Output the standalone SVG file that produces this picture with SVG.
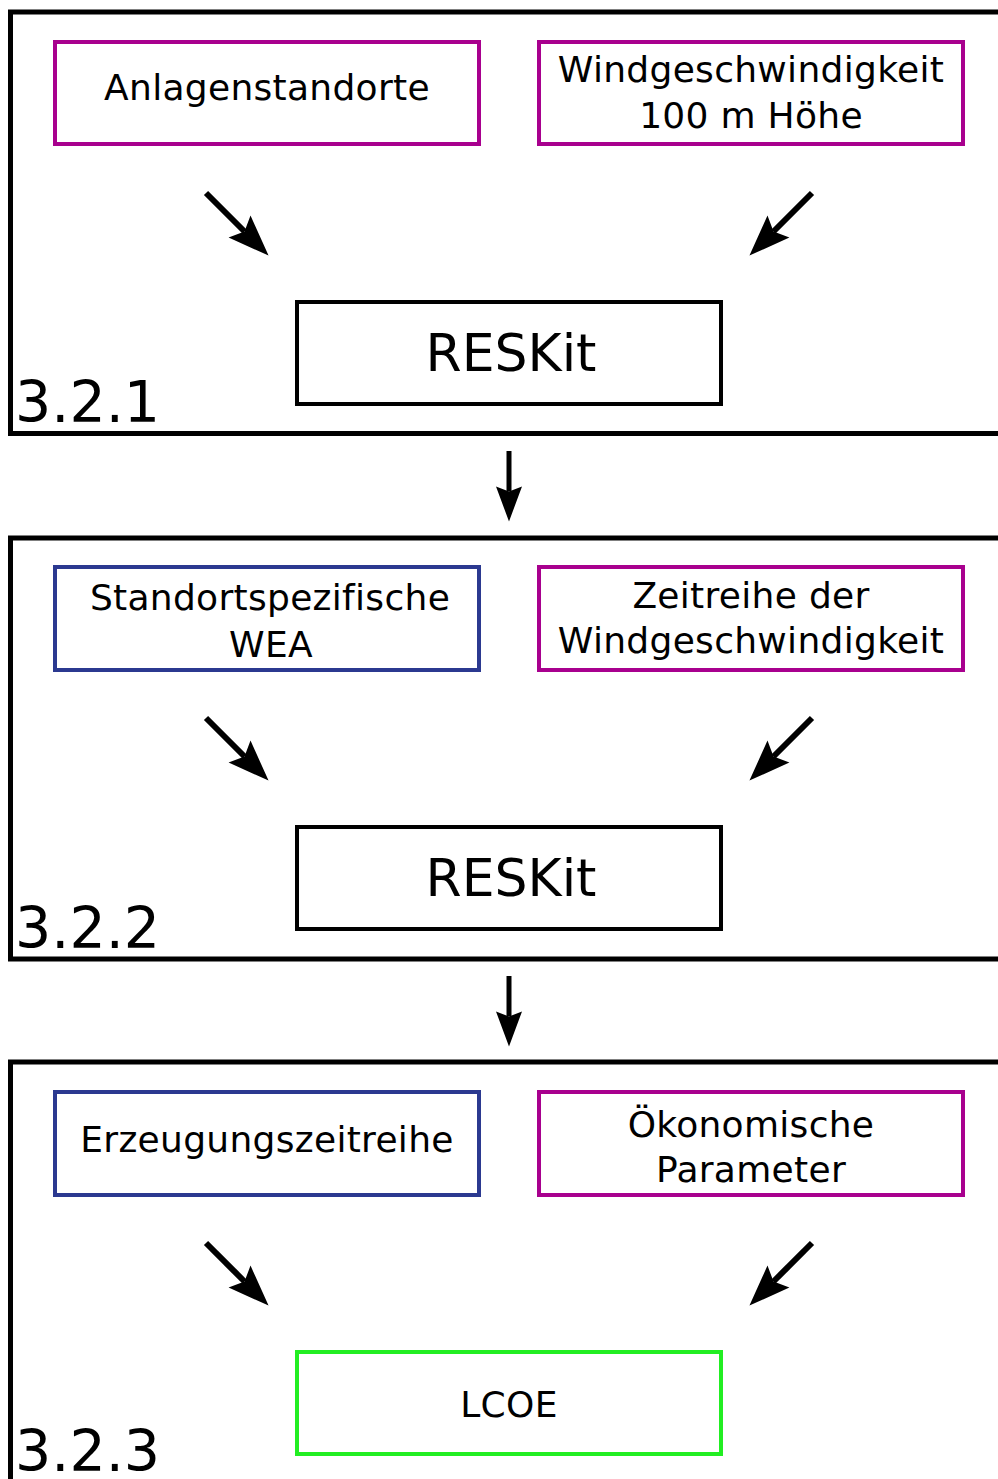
<svg xmlns="http://www.w3.org/2000/svg" width="998" height="1479" viewBox="0 0 998 1479">
<style>
.frame{fill:none;stroke:#000;stroke-width:5}
.box{fill:#fff;stroke-width:4}
.purple{stroke:#a8008e}
.blue{stroke:#2b3990}
.black{stroke:#000}
.green{stroke:#22ee22}
.t{font-family:"DejaVu Sans",Verdana,sans-serif;font-size:36px;fill:#000;text-anchor:middle;letter-spacing:0.3px}
.big{font-size:52px;letter-spacing:0}
.sec{font-family:"DejaVu Sans",Verdana,sans-serif;font-size:57px;fill:#000}
.arr{stroke:#000;stroke-width:6;fill:none;marker-end:url(#hd)}
.down{stroke:#000;stroke-width:5;fill:none;marker-end:url(#hv)}
</style>
<defs>
<marker id="hd" markerUnits="userSpaceOnUse" orient="auto" refX="0" refY="0" markerWidth="60" markerHeight="60" overflow="visible">
<path d="M34,0 L-7,-15.5 L0,0 L-7,15.5 Z" fill="#000"/>
</marker>
<marker id="hv" markerUnits="userSpaceOnUse" orient="auto" refX="0" refY="0" markerWidth="60" markerHeight="60" overflow="visible">
<path d="M30,0 L-5,-13 L0,0 L-5,13 Z" fill="#000"/>
</marker>
</defs>

<g id="section1">
<rect class="frame" x="10.5" y="12" width="1000" height="421.5"/>
<text class="sec" x="15" y="422">3.2.1</text>
</g>
<g id="section2">
<rect class="frame" x="10.5" y="538" width="1000" height="421"/>
<text class="sec" x="15" y="948">3.2.2</text>
</g>
<g id="section3">
<path class="frame" d="M1010,1062 H10.5 V1490"/>
<text class="sec" x="15" y="1471">3.2.3</text>
</g>

<g id="anlagenstandorte">
<rect class="box purple" x="55" y="42" width="424" height="102"/>
<text class="t" x="267" y="100">Anlagenstandorte</text>
</g>
<g id="windgeschwindigkeit">
<rect class="box purple" x="539" y="42" width="424" height="102"/>
<text class="t" x="751" y="82">Windgeschwindigkeit</text>
<text class="t" x="751" y="128">100 m Höhe</text>
</g>
<g id="reskit1">
<rect class="box black" x="297" y="302" width="424" height="102"/>
<text class="t big" x="511" y="371">RESKit</text>
</g>

<g id="standortspezifische">
<rect class="box blue" x="55" y="567" width="424" height="103"/>
<text class="t" x="270" y="610">Standortspezifische</text>
<text class="t" x="271" y="657">WEA</text>
</g>
<g id="zeitreihe">
<rect class="box purple" x="539" y="567" width="424" height="103"/>
<text class="t" x="751" y="608">Zeitreihe der</text>
<text class="t" x="751" y="653">Windgeschwindigkeit</text>
</g>
<g id="reskit2">
<rect class="box black" x="297" y="827" width="424" height="102"/>
<text class="t big" x="511" y="896">RESKit</text>
</g>

<g id="erzeugung">
<rect class="box blue" x="55" y="1092" width="424" height="103"/>
<text class="t" x="267" y="1152">Erzeugungszeitreihe</text>
</g>
<g id="oekonomisch">
<rect class="box purple" x="539" y="1092" width="424" height="103"/>
<text class="t" x="751" y="1137">Ökonomische</text>
<text class="t" x="751" y="1182">Parameter</text>
</g>
<g id="lcoe">
<rect class="box green" x="297" y="1352" width="424" height="102"/>
<text class="t" x="509" y="1417">LCOE</text>
</g>

<g id="connectors">
<path class="arr" d="M206,193 L244.5,231.5"/>
<path class="arr" d="M812,193 L773.5,231.5"/>
<path class="arr" d="M206,718 L244.5,756.5"/>
<path class="arr" d="M812,718 L773.5,756.5"/>
<path class="arr" d="M206,1243 L244.5,1281.5"/>
<path class="arr" d="M812,1243 L773.5,1281.5"/>
<path class="down" d="M509,451 V491.5"/>
<path class="down" d="M509,976 V1016.5"/>
</g>
</svg>
